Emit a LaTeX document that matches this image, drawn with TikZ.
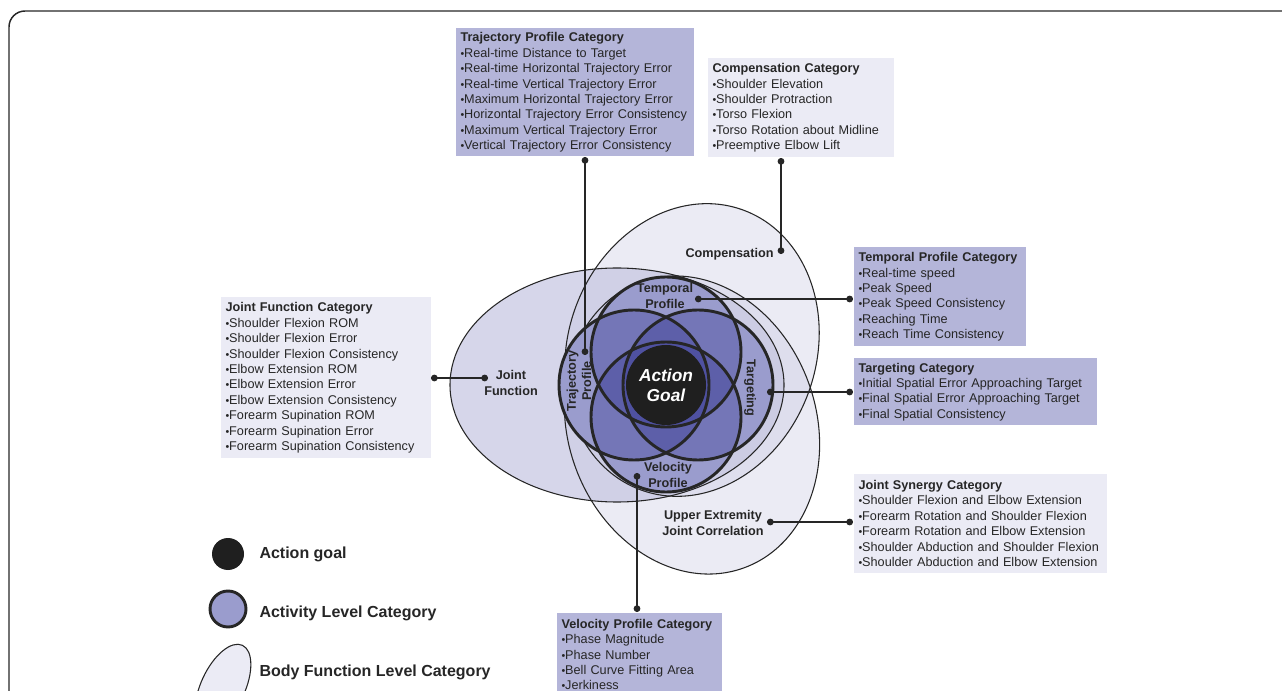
\documentclass[tikz,border=0pt]{standalone}
\usepackage{fontspec}
\setmainfont{Liberation Sans}
\usetikzlibrary{arrows.meta}

\definecolor{inkgray}{HTML}{262626}
\definecolor{lightbox}{HTML}{EBEBF5}
\definecolor{midbox}{HTML}{B4B5D9}
\definecolor{jffill}{HTML}{D6D6EA}
\definecolor{bodyfill}{HTML}{C5C5E0}
\definecolor{actbase}{HTML}{DADCF2}
\definecolor{actdark}{HTML}{3C3E96}

\newcommand{\bul}{{\fontsize{8}{8}\selectfont•}}

\tikzset{every picture/.style={line width=0.75pt}}
\tikzset{
  catbox/.style={anchor=north west, align=left, inner xsep=3.75pt, inner ysep=0pt,
    font=\fontsize{9.5}{11.55}\selectfont, text=inkgray},
  lbl/.style={align=center, inner sep=0pt, font=\bfseries\fontsize{9.5}{11.3}\selectfont, text=inkgray},
  legtext/.style={anchor=west, inner sep=0pt, font=\bfseries\fontsize{12}{14}\selectfont, text=inkgray},
  bodyline/.style={draw=inkgray, line width=0.8pt},
  actline/.style={draw=inkgray, line width=2.2pt},
  conn/.style={draw=inkgray, line width=1.3pt, {Circle[length=5pt]}-{Circle[length=5pt]}},
}

\begin{document}
\begin{tikzpicture}[x=0.75pt,y=0.75pt,yscale=-1,xscale=1]
\useasboundingbox (0,0) rectangle (1282,691);

% frame
\begin{scope}
\clip (0,0) rectangle (1282,691);
\draw [draw=inkgray, line width=1.1pt, rounded corners=12] (9,11) rectangle (1320,740);
\end{scope}

% body function level ellipses
\coordinate (jf) at (617,385);
\coordinate (comp) at (692,350);
\coordinate (ue) at (692,425);
\fill [jffill] (jf) ellipse (167 and 117);
\fill [bodyfill, fill opacity=0.35, rotate around={-70:(comp)}] (comp) ellipse (149 and 124);
\fill [bodyfill, fill opacity=0.35, rotate around={70:(ue)}] (ue) ellipse (152 and 124);
\draw [bodyline] (jf) ellipse (167 and 117);
\draw [bodyline, rotate around={-70:(comp)}] (comp) ellipse (149 and 124);
\draw [bodyline, rotate around={70:(ue)}] (ue) ellipse (152 and 124);

% activity level circles
\coordinate (tp) at (666,352);
\coordinate (vp) at (666,417);
\coordinate (tr) at (634,385);
\coordinate (tg) at (698,385);
\foreach \c in {tp,vp,tr,tg} \fill [actbase] (\c) circle (75);
\foreach \c in {tp,vp,tr,tg} \fill [actdark, fill opacity=0.4] (\c) circle (75);
\foreach \c in {tp,vp,tr,tg} \draw [actline] (\c) circle (75);

% action goal
\fill [black!88] (666,385) circle (40);
\node [align=center, inner sep=0pt, text=white, font=\bfseries\itshape\fontsize{13}{15}\selectfont] (goal) at (666,385) {Action\\Goal};

% labels inside the diagram
\node [lbl] (tplbl) at (665,296) {Temporal\\Profile};
\node [lbl] (vplbl) at (668,475) {Velocity\\Profile};
\node [lbl, rotate=90] (trlbl) at (579,381) {Trajectory\\Profile};
\node [lbl, rotate=-90] (tglbl) at (750,388) {Targeting};
\node [lbl] (jflbl) at (511,383) {Joint\\Function};
\node [lbl, anchor=east] (complbl) at (774,254) {Compensation};
\node [lbl] (uelbl) at (713,523) {Upper Extremity\\Joint Correlation};

% category boxes
\node [catbox, fill=midbox, text width=171pt, minimum height=96pt] (trajbox) at (455,28) {\textbf{Trajectory Profile Category}\\
\bul Real-time Distance to Target\\
\bul Real-time Horizontal Trajectory Error\\
\bul Real-time Vertical Trajectory Error\\
\bul Maximum Horizontal Trajectory Error\\
\bul Horizontal Trajectory Error Consistency\\
\bul Maximum Vertical Trajectory Error\\
\bul Vertical Trajectory Error Consistency};

\node [catbox, fill=lightbox, text width=132pt, minimum height=74.25pt] (compbox) at (707,58) {\textbf{Compensation Category}\\
\bul Shoulder Elevation\\
\bul Shoulder Protraction\\
\bul Torso Flexion\\
\bul Torso Rotation about Midline\\
\bul Preemptive Elbow Lift};

\node [catbox, fill=midbox, text width=121.5pt, minimum height=74.25pt] (tempbox) at (853,247) {\textbf{Temporal Profile Category}\\
\bul Real-time speed\\
\bul Peak Speed\\
\bul Peak Speed Consistency\\
\bul Reaching Time\\
\bul Reach Time Consistency};

\node [catbox, fill=midbox, text width=174.75pt, minimum height=50.25pt] (targbox) at (853,358) {\textbf{Targeting Category}\\
\bul Initial Spatial Error Approaching Target\\
\bul Final Spatial Error Approaching Target\\
\bul Final Spatial Consistency};

\node [catbox, fill=lightbox, text width=150pt, minimum height=120.75pt] (jfbox) at (220,297) {\textbf{Joint Function Category}\\
\bul Shoulder Flexion ROM\\
\bul Shoulder Flexion Error\\
\bul Shoulder Flexion Consistency\\
\bul Elbow Extension ROM\\
\bul Elbow Extension Error\\
\bul Elbow Extension Consistency\\
\bul Forearm Supination ROM\\
\bul Forearm Supination Error\\
\bul Forearm Supination Consistency};

\node [catbox, fill=lightbox, text width=182.25pt, minimum height=73.5pt] (synbox) at (853,474) {\textbf{Joint Synergy Category}\\
\bul Shoulder Flexion and Elbow Extension\\
\bul Forearm Rotation and Shoulder Flexion\\
\bul Forearm Rotation and Elbow Extension\\
\bul Shoulder Abduction and Shoulder Flexion\\
\bul Shoulder Abduction and Elbow Extension};

\node [catbox, fill=midbox, text width=116.25pt, minimum height=63pt] (velbox) at (556,612) {\textbf{Velocity Profile Category}\\
\bul Phase Magnitude\\
\bul Phase Number\\
\bul Bell Curve Fitting Area\\
\bul Jerkiness};

% connectors
\coordinate (trajin) at (585,355);
\coordinate (compin) at (781,254);
\coordinate (tempin) at (695,299);
\coordinate (targin) at (767,392);
\coordinate (jfin) at (488,378);
\coordinate (uein) at (767,522);
\coordinate (velin) at (637,473);
\draw [conn] (trajbox.south -| trajin) -- (trajin);
\draw [conn] (compbox.south -| compin) -- (compin);
\draw [conn] (tempin) -- (tempbox.west |- tempin);
\draw [conn] (targin) -- (targbox.west |- targin);
\draw [conn] (jfbox.east |- jfin) -- (jfin);
\draw [conn] (uein) -- (synbox.west |- uein);
\draw [conn] (velin) -- (velbox.north -| velin);

% legend
\fill [black!88] (228,554) circle (16);
\node [legtext] (leggoal) at (259,554) {Action goal};
\fill [actbase] (228,609) circle (18);
\fill [actdark, fill opacity=0.4] (228,609) circle (18);
\draw [actline] (228,609) circle (18);
\node [legtext] (legact) at (259,613) {Activity Level Category};
\fill [lightbox, rotate around={-65:(223,687)}] (223,687) ellipse (46 and 22);
\draw [bodyline, rotate around={-65:(223,687)}] (223,687) ellipse (46 and 22);
\node [legtext] (legbody) at (259,672) {Body Function Level Category};

\end{tikzpicture}
\end{document}
